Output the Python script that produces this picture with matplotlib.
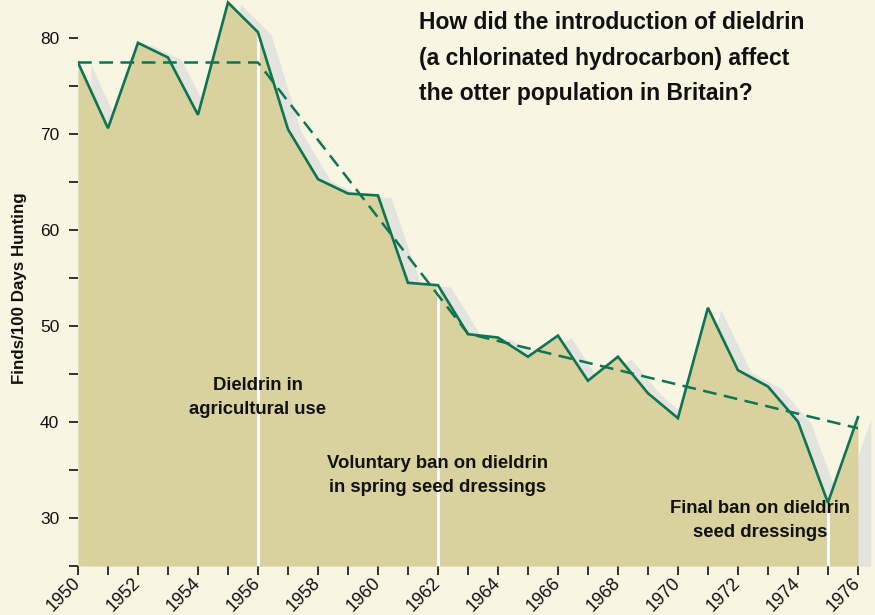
import numpy as np
import matplotlib.pyplot as plt

# otter finds per 100 days hunting
years = list(range(1950, 1977))
finds = [77.45, 70.6, 79.5, 77.97, 72.0, 83.7, 80.6, 70.5, 65.3, 63.8,
         63.6, 54.5, 54.25, 49.15, 48.8, 46.8, 49.0, 44.3, 46.8, 43.0,
         40.4, 51.9, 45.4, 43.7, 40.05, 31.6, 40.5]

# dashed trend line
trend_years = [1950, 1956, 1963, 1976]
trend_vals = [77.45, 77.45, 49.2, 39.35]

event_years = [1956, 1962, 1975]
event_labels = [["Dieldrin in", "agricultural use"],
                ["Voluntary ban on dieldrin", "in spring seed dressings"],
                ["Final ban on dieldrin", "seed dressings"]]

title_lines = ["How did the introduction of dieldrin",
               "(a chlorinated hydrocarbon) affect",
               "the otter population in Britain?"]

bg = '#f8f5e2'
fill_col = '#d9d29e'
shadow_col = '#e4e4df'
green = '#0e7452'
ink = '#111111'
fam = ['Liberation Sans', 'DejaVu Sans']

W, H = 875, 615
fig = plt.figure(figsize=(W/100, H/100), dpi=100, facecolor=bg)
ax = fig.add_axes([78/W, 49/H, 797/W, 566/H])
ax.set_facecolor(bg)
ax.set_xlim(1950, 1976.57)
ax.set_ylim(25, 83.96)

yr = np.array(years, dtype=float)
fv = np.array(finds)

# soft drop shadow behind the filled area
ax.fill_between(yr + 0.43, fv - 0.2, 25, color=shadow_col, lw=0, zorder=1)
ax.fill_between(yr, fv, 25, color=fill_col, lw=0, zorder=2)

# white marker lines for events
tops = [finds[years.index(y)] for y in event_years]
ax.vlines(event_years, 25, tops, color='white', lw=2, zorder=3)

ax.plot(trend_years, trend_vals, color=green, lw=1.8, ls=(0, (5.5, 3)), zorder=4)
ax.plot(yr, fv, color=green, lw=1.9, zorder=5, solid_joinstyle='miter')

# event labels (baselines in data units)
label_pos = [(1956.0, [43.3, 40.8]), (1962.0, [35.2, 32.75]), (1972.75, [30.5, 28.0])]
for lines, (x, ys) in zip(event_labels, label_pos):
    for txt, y in zip(lines, ys):
        ax.text(x, y, txt, ha='center', va='baseline', fontsize=13.3,
                fontweight='bold', family=fam, color=ink, zorder=6)

# axes styling
for s in ax.spines.values():
    s.set_visible(False)
ax.set_xticks(range(1950, 1977, 2))
ax.set_xticks(years, minor=True)
ax.set_yticks(range(30, 81, 10))
ax.set_yticks(range(25, 81, 5), minor=True)
ax.tick_params(which='both', length=6.5, width=1.3, color='#222222', direction='out')
ax.tick_params(axis='y', labelsize=12.5, pad=7, labelcolor=ink)
ax.tick_params(axis='x', labelsize=13, pad=4, labelcolor=ink)
for lab in ax.get_yticklabels():
    lab.set_family(fam)
for lab in ax.get_xticklabels():
    lab.set_family(fam)
    lab.set_rotation(45)
    lab.set_ha('right')
    lab.set_va('center')
    lab.set_rotation_mode('anchor')

fig.text(20/W, 1 - 288/H, "Finds/100 Days Hunting", rotation=90, ha='center',
         va='center', fontsize=12.2, fontweight='bold', family=fam, color=ink)

for i, line in enumerate(title_lines):
    fig.text(419/W, 1 - (29 + 35.5*i)/H, line, ha='left', va='baseline',
             fontsize=16.5, fontweight='bold', family=fam, color=ink)

fig.savefig('out.png', dpi=100, facecolor=bg)
